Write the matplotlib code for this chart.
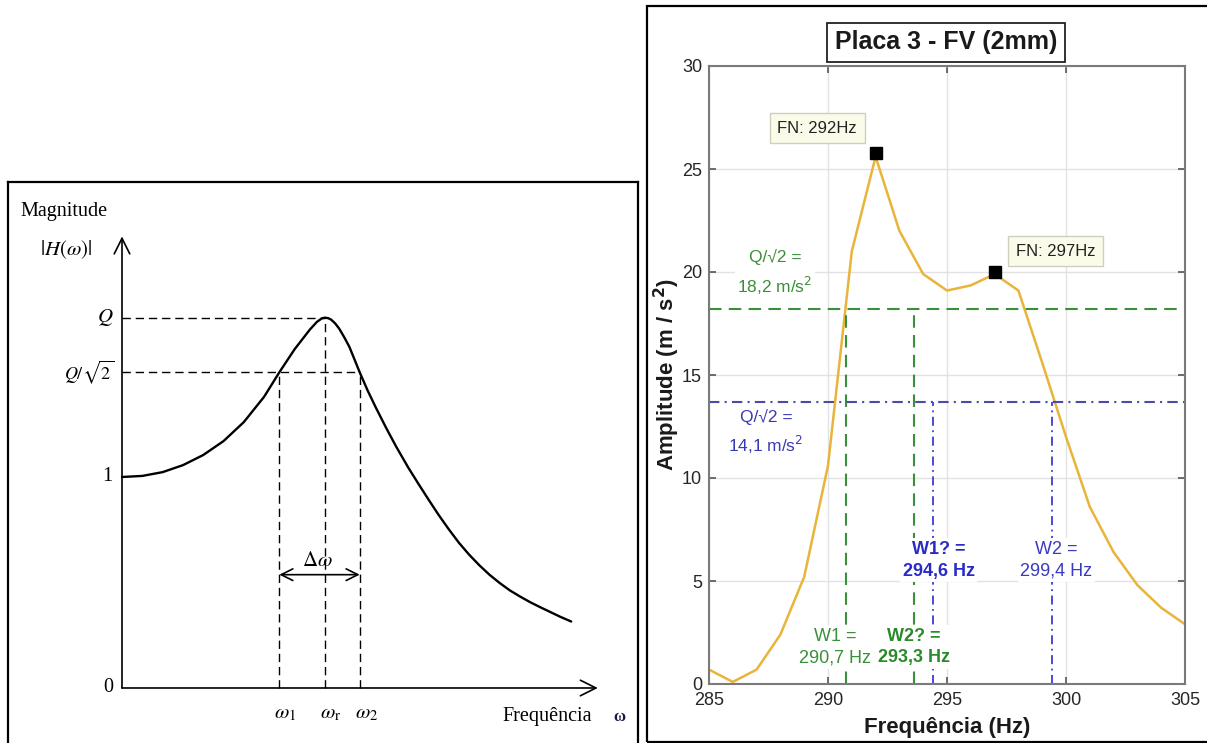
import matplotlib
matplotlib.use("Agg")
import matplotlib.pyplot as plt
from matplotlib.patches import Rectangle

# ---- left panel: schematic resonance curve ----
curve_w = [0.0, 0.1, 0.2, 0.3, 0.4, 0.5, 0.6, 0.7, 0.775, 0.85, 0.925, 0.96,
           0.985, 1.0, 1.015, 1.03, 1.05, 1.07, 1.095, 1.12, 1.145, 1.171,
           1.21, 1.25, 1.30, 1.35, 1.41, 1.46, 1.51, 1.56, 1.61, 1.66, 1.71,
           1.76, 1.81, 1.86, 1.91, 1.96, 2.01, 2.06, 2.11, 2.16, 2.213]
curve_h = [1.0, 1.005, 1.023, 1.056, 1.104, 1.17, 1.26, 1.38, 1.496, 1.605,
           1.698, 1.735, 1.752, 1.755, 1.753, 1.746, 1.728, 1.703, 1.662, 1.617,
           1.558, 1.496, 1.41, 1.33, 1.235, 1.145, 1.045, 0.968, 0.893, 0.82,
           0.752, 0.688, 0.632, 0.582, 0.537, 0.498, 0.463, 0.434, 0.407, 0.383,
           0.360, 0.337, 0.315]
w1, wr, w2 = 0.775, 1.0, 1.171
Q, Q_r2 = 1.755, 1.496
dw_level = 0.537

# ---- right panel: measured FRF ----
freq = list(range(285, 306))
amp = [0.7, 0.1, 0.7, 2.4, 5.2, 10.6, 21.0, 25.6, 22.0, 19.9, 19.1,
       19.35, 19.9, 19.1, 15.6, 12.0, 8.6, 6.4, 4.8, 3.7, 2.9]
peak_f = [292, 297]
peak_a = [25.8, 20.0]
peak_labels = ["FN: 292Hz", "FN: 297Hz"]
half_green = 18.2
half_blue = 13.7
green_w = [290.75, 293.6]
blue_w = [294.4, 299.4]

W, H = 1207, 743
fig = plt.figure(figsize=(W / 100, H / 100), dpi=100)
serif = ["Liberation Serif", "DejaVu Serif"]
sans = ["Liberation Sans", "DejaVu Sans"]

# ================= left =================
ax1 = fig.add_axes([8 / W, 0, 630 / W, (H - 182) / H])
ax1.set_xlim(-0.5616, 2.542)
ax1.set_ylim(-0.2607, 2.398)
ax1.set_xticks([])
ax1.set_yticks([])
for s in ["left", "top", "right"]:
    ax1.spines[s].set_linewidth(1.6)
    ax1.spines[s].set_color("black")
ax1.spines["bottom"].set_visible(False)

arrow = dict(arrowstyle="->,head_length=0.7,head_width=0.35", lw=1.2,
             color="black", mutation_scale=16, shrinkA=0, shrinkB=0)
ax1.annotate("", xy=(2.344, 0), xytext=(0, 0), arrowprops=arrow)
ax1.annotate("", xy=(0, 2.14), xytext=(0, 0), arrowprops=arrow)
ax1.plot(curve_w, curve_h, color="black", lw=1.7, solid_capstyle="round",
         solid_joinstyle="round")

dash = (0, (6, 3.5))
ax1.plot([0, wr], [Q, Q], color="black", lw=1, ls=dash)
ax1.plot([0, w2], [Q_r2, Q_r2], color="black", lw=1, ls=dash)
for xv, top in [(w1, Q_r2), (wr, Q), (w2, Q_r2)]:
    ax1.plot([xv, xv], [0, top], color="black", lw=1, ls=dash)

ax1.annotate("", xy=(w2, dw_level), xytext=(w1, dw_level),
             arrowprops=dict(arrowstyle="<->,head_length=0.6,head_width=0.3",
                             lw=1.2, color="black", mutation_scale=14,
                             shrinkA=0, shrinkB=0))
ax1.text((w1 + w2) / 2 - 0.01, 0.607, r"$\Delta\omega$", ha="center", va="center",
         fontsize=15, math_fontfamily="stix")

ax1.text(-0.502, 2.256, "Magnitude", ha="left", va="center", fontsize=14.5, family=serif)
ax1.text(-0.276, 2.076, r"$|H(\omega)|$", ha="center", va="center", fontsize=15,
         math_fontfamily="stix")
ax1.text(-0.04, Q, r"$Q$", ha="right", va="center", fontsize=15, math_fontfamily="stix")
ax1.text(-0.04, Q_r2, r"$Q/\sqrt{2}$", ha="right", va="center", fontsize=13,
         math_fontfamily="stix")
ax1.text(-0.05, 1.0, "1", ha="right", va="center", fontsize=14.5, family=serif)
ax1.text(-0.045, 0.0, "0", ha="right", va="center", fontsize=14.5, family=serif)
for xv, lab in [(w1, r"$\omega_1$"), (wr, r"$\omega_\mathrm{r}$"), (w2, r"$\omega_2$")]:
    ax1.text(xv - 0.025, -0.118, lab, ha="left", va="center", fontsize=15,
             math_fontfamily="stix")
ax1.text(1.872, -0.137, "Frequência", ha="left", va="center", fontsize=14.5, family=serif)
ax1.text(2.419, -0.137, "ω", ha="left", va="center", fontsize=12, family=serif,
         weight="bold", color="#1a1a40")

# ================= right =================
fig.add_artist(Rectangle((647 / W, 1 / H), 600 / W, (H - 7) / H,
                         transform=fig.transFigure, fill=False, ec="black", lw=1.6))

ax2 = fig.add_axes([709 / W, (H - 684) / H, 476 / W, 618 / H])
ax2.set_xlim(285, 305)
ax2.set_ylim(0, 30)
ax2.set_xticks(range(285, 306, 5))
ax2.set_yticks(range(0, 31, 5))
ax2.grid(True, color="#e2e2e2", lw=1)
ax2.set_axisbelow(True)
ax2.tick_params(direction="in", top=True, right=True, length=5, width=1.2,
                color="#555555", labelsize=13, labelcolor="#262626")
ax2.tick_params(axis="x", pad=6)
ax2.tick_params(axis="y", pad=5)
for lab in ax2.get_xticklabels() + ax2.get_yticklabels():
    lab.set_family(sans)
for s in ax2.spines.values():
    s.set_color("#7a7a7a")
    s.set_linewidth(1.5)

ax2.plot(freq, amp, color="#E9B43A", lw=1.8, zorder=2)

gcol = "#3a8f3a"
bcol_h = "#4a4aa8"
bcol_v = "#3c3cd8"
ax2.plot([285, 305], [half_green, half_green], color=gcol, lw=1.5, ls=(0, (6, 3.5)), zorder=2)
for xv in green_w:
    ax2.plot([xv, xv], [0, half_green], color=gcol, lw=1.5, ls=(0, (6, 3.5)), zorder=2)
ax2.plot([285, 305], [half_blue, half_blue], color=bcol_h, lw=1.5,
         ls=(0, (5, 2.5, 1, 2.5)), zorder=2)
for xv in blue_w:
    ax2.plot([xv, xv], [0, half_blue], color=bcol_v, lw=1.3,
             ls=(0, (5, 2.5, 1, 2.5)), zorder=2)

ax2.plot(peak_f, peak_a, "s", color="black", ms=8.5, zorder=4)
tip_xy = [(289.55, 26.99), (299.55, 21.0)]
for (tx, ty), lab in zip(tip_xy, peak_labels):
    ax2.text(tx, ty, lab, ha="center", va="center", fontsize=12, family=sans,
             color="#222222", zorder=5,
             bbox=dict(boxstyle="square,pad=0.45", fc="#fbfbea", ec="#cfcfc0", lw=1))

wbox = dict(boxstyle="square,pad=0.15", fc="white", ec="none")
ax2.text(287.77, 19.95, "Q/√2 =\n18,2 m/s$^2$", ha="center", va="center", fontsize=12.5,
         family=sans, color=gcol, linespacing=1.55, bbox=wbox, zorder=5)
ax2.text(287.4, 12.2, "Q/√2 =\n14,1 m/s$^2$", ha="center", va="center", fontsize=12.5,
         family=sans, color="#3a3ab0", linespacing=1.5, bbox=wbox, zorder=5)
ax2.text(290.3, 1.8, "W1 =\n290,7 Hz", ha="center", va="center", fontsize=13,
         family=sans, color=gcol, linespacing=1.35, bbox=wbox, zorder=5)
ax2.text(293.6, 1.8, "W2? =\n293,3 Hz", ha="center", va="center", fontsize=13,
         family=sans, color="#2a8a2a", weight="bold", linespacing=1.35, bbox=wbox, zorder=5)
ax2.text(294.65, 6.0, "W1? =\n294,6 Hz", ha="center", va="center", fontsize=13,
         family=sans, color="#2a2ac8", weight="bold", linespacing=1.35, bbox=wbox, zorder=5)
ax2.text(299.6, 6.0, "W2 =\n299,4 Hz", ha="center", va="center", fontsize=13,
         family=sans, color="#3a3ac0", linespacing=1.35, bbox=wbox, zorder=5)

ax2.set_xlabel("Frequência (Hz)", fontsize=16, weight="bold", family=sans,
               color="#1a1a1a", va="center")
ax2.xaxis.set_label_coords(0.5, (684 - 728) / 618)
ax2.set_ylabel("Amplitude (m / s$^\\mathbf{2}$)", fontsize=16, weight="bold",
               family=sans, color="#1a1a1a", va="center")
ax2.yaxis.set_label_coords((667 - 709) / 476, 0.5)

fig.text(946 / W, (H - 42) / H, "Placa 3 - FV (2mm)", ha="center", va="center",
         fontsize=18, weight="bold", family=sans, color="#1a1a1a",
         bbox=dict(boxstyle="square,pad=0.3", fc="white", ec="#222222", lw=1.3))

fig.savefig("out.png", dpi=100)
